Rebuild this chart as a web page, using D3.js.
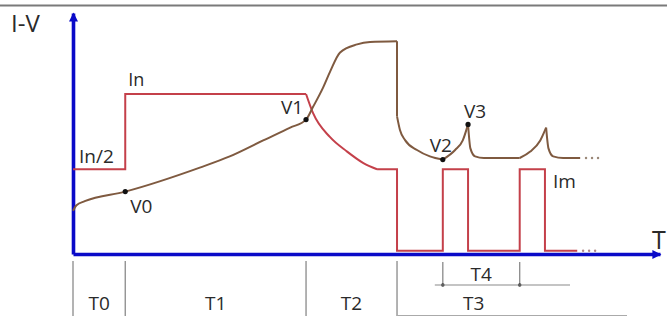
<!DOCTYPE html>
<meta charset="utf-8">
<head>
  <script src="https://d3js.org/d3.v7.min.js"></script>
</head>
<style>
  body { margin: 0; background: white; }
  text { font-family: "Open Sans", sans-serif; fill: #2a2a2a; }
</style>
<body>
<div id="chart"></div>
<script>
// time in arbitrary units (0..100), level relative to In (0..1)
var currentSteps = [[0, 0.53], [8.9, 0.53], [8.9, 1], [39.7, 1]];
var currentFall = [[39.7, 1], [40.9, 0.88], [43.8, 0.73], [46.7, 0.64], [49.4, 0.57], [51.8, 0.53]];
var currentPulses = [[51.8, 0.53], [55.2, 0.53], [55.2, 0.02], [63.0, 0.02], [63.0, 0.53], [67.3, 0.53],
                     [67.3, 0.02], [76.1, 0.02], [76.1, 0.53], [80.4, 0.53], [80.4, 0.02], [85.9, 0.02]];

var voltRise = [[0, 0.27], [0.6, 0.305], [2.0, 0.33], [8.9, 0.39], [21.6, 0.54], [26.7, 0.61], [32.4, 0.71],
                [37.0, 0.79], [39.7, 0.84], [40.9, 0.92], [42.6, 1.04], [43.8, 1.14], [45.5, 1.26],
                [48.4, 1.31], [50.6, 1.325], [55.2, 1.33]];
var voltDrop = [[55.2, 1.33], [55.2, 0.86]];
var voltDecay = [[55.2, 0.86], [55.7, 0.775], [56.6, 0.71], [58.6, 0.65], [60.8, 0.61], [63.0, 0.59]];
var spikeRise1 = [[63.0, 0.59], [65.1, 0.65], [66.4, 0.71], [67.3, 0.81]];
var spikeFall1 = [[67.3, 0.81], [67.7, 0.66], [68.5, 0.61], [70.0, 0.60], [76.1, 0.60]];
var spikeRise2 = [[76.1, 0.60], [77.9, 0.64], [79.6, 0.71], [80.6, 0.79]];
var spikeFall2 = [[80.6, 0.79], [81.0, 0.66], [81.8, 0.61], [83.5, 0.60], [86.4, 0.60]];

var pointNames = ["V0", "V1", "V2", "V3"];
var pointValues = [[8.9, 0.39], [39.7, 0.84], [63.0, 0.59], [67.3, 0.81]];

var periodNames = ["T0", "T1", "T2", "T3"];
var periodBounds = [0, 8.9, 39.7, 55.2, 81.3];
var pulsePeriod = [63.0, 76.1];

var W = 667, H = 316;
var blue = "#0a0ac8", red = "#c4404a", brown = "#7f5a40", grey = "#8a8a8a";

var svg = d3.select("#chart").append("svg")
  .attr("width", W).attr("height", H);

var x = d3.scaleLinear().domain([0, 100]).range([73, 660]);
var y = d3.scaleLinear().domain([0, 1]).range([254, 94]);

// top rule
svg.append("line")
  .attr("x1", 0).attr("x2", W).attr("y1", 5.5).attr("y2", 5.5)
  .attr("stroke", "#7a7a7a").attr("stroke-width", 2.2);

// arrow heads
var defs = svg.append("defs");
defs.append("marker")
  .attr("id", "arrow")
  .attr("viewBox", "0 0 10 10")
  .attr("refX", 9).attr("refY", 5)
  .attr("markerUnits", "userSpaceOnUse")
  .attr("markerWidth", 11).attr("markerHeight", 9)
  .attr("orient", "auto")
  .append("path")
  .attr("d", "M0,0L10,5L0,10Z")
  .attr("fill", blue);

// axes (no ticks, just the arrowed lines)
var yAxisScale = d3.scaleLinear().domain([0, y.invert(13)]).range([254, 13]);
var gy = svg.append("g")
  .attr("transform", "translate(" + x(0) + ",0)")
  .call(d3.axisLeft(yAxisScale).tickValues([]).tickSizeOuter(0));
var gx = svg.append("g")
  .attr("transform", "translate(0," + y(0) + ")")
  .call(d3.axisBottom(x).tickValues([]).tickSizeOuter(0));
[gx, gy].forEach(function(g) {
  g.select(".domain")
    .attr("stroke", blue)
    .attr("stroke-width", 3.6)
    .attr("marker-end", "url(#arrow)");
});

var linear = d3.line().x(function(d) { return x(d[0]); }).y(function(d) { return y(d[1]); });
var smooth = d3.line().x(function(d) { return x(d[0]); }).y(function(d) { return y(d[1]); })
  .curve(d3.curveMonotoneX);

// current
[[currentSteps, linear], [currentFall, smooth], [currentPulses, linear]].forEach(function(s) {
  svg.append("path")
    .attr("d", s[1](s[0]))
    .attr("fill", "none")
    .attr("stroke", red)
    .attr("stroke-width", 2)
    .attr("stroke-linejoin", "miter");
});

// voltage
[[voltRise, smooth], [voltDrop, linear], [voltDecay, smooth], [spikeRise1, smooth],
 [spikeFall1, smooth], [spikeRise2, smooth], [spikeFall2, smooth]].forEach(function(s) {
  svg.append("path")
    .attr("d", s[1](s[0]))
    .attr("fill", "none")
    .attr("stroke", brown)
    .attr("stroke-width", 2);
});

// continuation dots
[0, 1, 2].forEach(function(i) {
  svg.append("circle").attr("cx", x(87.4) + i * 6).attr("cy", y(0.60)).attr("r", 1.2).attr("fill", "#9a8878");
  svg.append("circle").attr("cx", x(86.9) + i * 6).attr("cy", y(0.02)).attr("r", 1.2).attr("fill", "#b08888");
});

// marked points
var labelOffsets = [[5, 21], [-25, -6], [-13, -8], [-4, -6]];
pointValues.forEach(function(p, i) {
  svg.append("circle")
    .attr("cx", x(p[0])).attr("cy", y(p[1])).attr("r", 2.6).attr("fill", "#111");
  svg.append("text")
    .attr("x", x(p[0]) + labelOffsets[i][0])
    .attr("y", y(p[1]) + labelOffsets[i][1])
    .attr("font-size", 19)
    .text(pointNames[i]);
});

// current labels
svg.append("text").attr("x", x(0) + 6).attr("y", y(0.53) - 6).attr("font-size", 19).text("In/2");
svg.append("text").attr("x", x(8.9) + 3).attr("y", y(1) - 8).attr("font-size", 18).text("In");
svg.append("text").attr("x", x(80.4) + 8).attr("y", y(0.53) + 19).attr("font-size", 19).text("Im");

// axis titles
svg.append("text").attr("x", 11).attr("y", 32).attr("font-size", 24).text("I-V");
svg.append("text").attr("x", 652).attr("y", 249).attr("font-size", 25).text("T");

// period markers
periodBounds.slice(0, 4).forEach(function(t) {
  svg.append("line")
    .attr("x1", x(t)).attr("x2", x(t)).attr("y1", 261).attr("y2", 316)
    .attr("stroke", grey).attr("stroke-width", 1.3);
});
periodNames.forEach(function(n, i) {
  svg.append("text")
    .attr("x", (x(periodBounds[i]) + x(periodBounds[i + 1])) / 2)
    .attr("y", 310)
    .attr("text-anchor", "middle")
    .attr("font-size", 19)
    .text(n);
});
svg.append("line")
  .attr("x1", x(55.2)).attr("x2", 627).attr("y1", 315.5).attr("y2", 315.5)
  .attr("stroke", "#aaa").attr("stroke-width", 1);

// T4 pulse period
pulsePeriod.forEach(function(t) {
  svg.append("line")
    .attr("x1", x(t)).attr("x2", x(t)).attr("y1", 262).attr("y2", 286)
    .attr("stroke", grey).attr("stroke-width", 1.3);
  svg.append("circle").attr("cx", x(t)).attr("cy", 285).attr("r", 1.8).attr("fill", "#333");
});
svg.append("line")
  .attr("x1", x(pulsePeriod[0]) - 8).attr("x2", 570).attr("y1", 285).attr("y2", 285)
  .attr("stroke", grey).attr("stroke-width", 1.2);
svg.append("text")
  .attr("x", (x(pulsePeriod[0]) + x(pulsePeriod[1])) / 2)
  .attr("y", 281)
  .attr("text-anchor", "middle")
  .attr("font-size", 19)
  .text("T4");
</script>
</body>
